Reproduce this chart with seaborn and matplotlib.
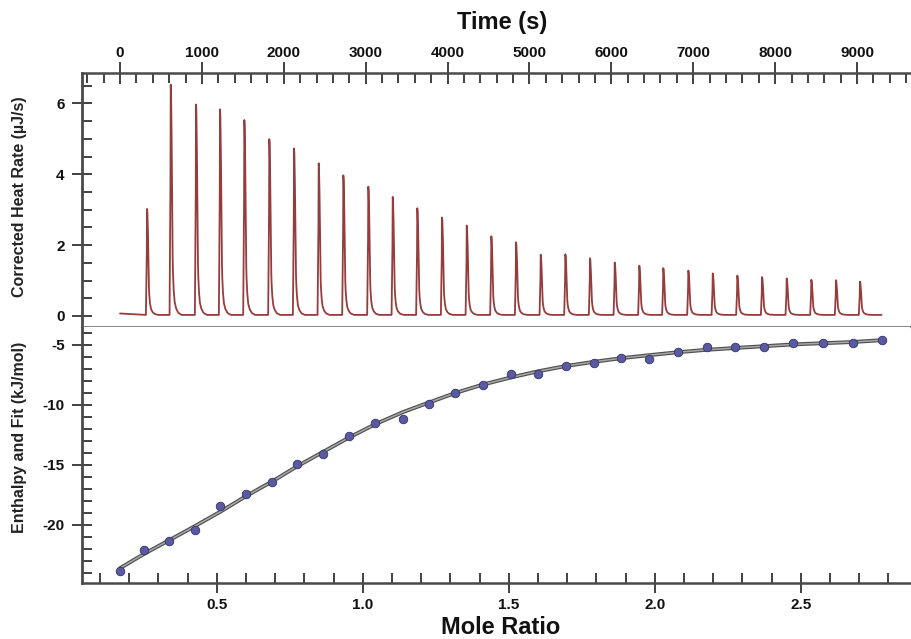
import numpy as np
import pandas as pd
import matplotlib
matplotlib.use("Agg")
import matplotlib.pyplot as plt
import seaborn as sns
from matplotlib.ticker import MultipleLocator, FixedLocator

# ---------------- data ----------------
# Thermogram: injection times (s) and peak heights (uJ/s)
peak_times = [330, 619, 928, 1221, 1518, 1823, 2125, 2426, 2727, 3032,
              3330, 3630, 3932, 4234, 4534, 4836, 5137, 5438, 5739, 6041,
              6341, 6634, 6940, 7238, 7538, 7840, 8141, 8442, 8743, 9036]
peak_heights = [2.99, 6.50, 5.94, 5.80, 5.50, 4.96, 4.70, 4.28, 3.94, 3.62,
                3.33, 3.01, 2.75, 2.52, 2.22, 2.05, 1.70, 1.71, 1.60, 1.48,
                1.39, 1.32, 1.25, 1.17, 1.11, 1.07, 1.03, 0.99, 0.98, 0.94]
# normalised shape of one injection peak (offset in s, fraction of height)
shape_offsets = [-14, -8, -4, 0, 4, 10, 16, 20, 26, 34, 46, 64, 90, 130]
shape_fracs = [0.0, 0.30, 0.45, 1.0, 0.97, 0.82, 0.55, 0.32, 0.20, 0.12,
               0.06, 0.03, 0.01, 0.0]
baseline_times = [0, 150, 300, 9300]
baseline_vals = [0.07, 0.05, 0.03, 0.03]

# Integrated heats
mole_ratio = [0.169, 0.252, 0.335, 0.425, 0.512, 0.600, 0.688, 0.776, 0.865,
              0.954, 1.043, 1.137, 1.226, 1.317, 1.411, 1.508, 1.599, 1.696,
              1.792, 1.885, 1.980, 2.081, 2.178, 2.275, 2.374, 2.475, 2.577,
              2.678, 2.777]
enthalpy = [-23.8, -22.1, -21.3, -20.4, -18.4, -17.4, -16.4, -14.9, -14.1,
            -12.6, -11.5, -11.2, -9.9, -9.0, -8.3, -7.4, -7.45, -6.75,
            -6.5, -6.1, -6.15, -5.6, -5.2, -5.2, -5.2, -4.8, -4.85,
            -4.8, -4.6]
fit_enthalpy = [-23.6, -22.4, -21.3, -20.1, -18.9, -17.6, -16.4, -15.1, -13.9,
                -12.7, -11.6, -10.6, -9.8, -9.0, -8.3, -7.7, -7.2, -6.75,
                -6.4, -6.1, -5.85, -5.6, -5.4, -5.25, -5.1, -4.95, -4.85,
                -4.75, -4.6]

time_ticks = [0, 1000, 2000, 3000, 4000, 5000, 6000, 7000, 8000, 9000]
heat_ticks = [0, 2, 4, 6]
mole_ticks = [0.5, 1.0, 1.5, 2.0, 2.5]
enthalpy_ticks = [-20, -15, -10, -5]

# ---------------- build thermogram trace ----------------
t = np.arange(0, 9301, 1.0)
trace = np.interp(t, baseline_times, baseline_vals)
for pt, ph in zip(peak_times, peak_heights):
    trace = trace + ph * np.interp(t - pt, shape_offsets, shape_fracs, left=0.0, right=0.0)
thermo = pd.DataFrame({"time": t, "heat": trace})
heats = pd.DataFrame({"ratio": mole_ratio, "dh": enthalpy, "fit": fit_enthalpy})

# ---------------- style ----------------
sns.set_theme(style="white")
plt.rcParams["font.family"] = ["Liberation Sans", "DejaVu Sans"]
plt.rcParams["font.weight"] = "bold"
plt.rcParams["axes.labelweight"] = "bold"

fig = plt.figure(figsize=(9.11, 6.39), dpi=100)
L, W = 81.7 / 911, (910 - 81.7) / 911
top_h = (327.3 - 73.3) / 639
bot_h = (583.3 - 327.3) / 639
ax_top = fig.add_axes([L, (639 - 327.3) / 639, W, top_h])
ax_bot = fig.add_axes([L, (639 - 583.3) / 639, W, bot_h])

spine_col = "#4a4a4a"
tick_col = "#333333"
text_col = "#111111"
label_x = (27 - 81.7) / (910 - 81.7)

# ---------- top: raw thermogram ----------
sns.lineplot(data=thermo, x="time", y="heat", ax=ax_top, color="#963c3c",
             linewidth=1.3, estimator=None, sort=False)
ax_top.set_xlim(-468, 9647)
ax_top.set_ylim(-0.32, 6.85)
ax_top.xaxis.set_ticks_position("top")
ax_top.xaxis.set_label_position("top")
ax_top.xaxis.set_major_locator(FixedLocator(time_ticks))
ax_top.xaxis.set_minor_locator(MultipleLocator(200))
ax_top.yaxis.set_major_locator(FixedLocator(heat_ticks))
ax_top.yaxis.set_minor_locator(MultipleLocator(0.5))
ax_top.set_xlabel("")
ax_top.set_ylabel("Corrected Heat Rate (\u00b5J/s)", fontsize=11.5, color="#222222")
ax_top.yaxis.set_label_coords(label_x, (327.3 - 197) / (327.3 - 73.3))

# ---------- bottom: integrated heats ----------
sns.lineplot(data=heats, x="ratio", y="fit", ax=ax_bot, color="#505050",
             linewidth=2.8, estimator=None, sort=False)
sns.lineplot(data=heats, x="ratio", y="fit", ax=ax_bot, color="#a8a8a8",
             linewidth=1.1, estimator=None, sort=False)
sns.scatterplot(data=heats, x="ratio", y="dh", ax=ax_bot, color="#5a5aa0",
                edgecolor="#33336a", linewidth=0.6, s=38, zorder=5)
ax_bot.set_xlim(0.0377, 2.874)
ax_bot.set_ylim(-24.86, -3.525)
ax_bot.xaxis.set_major_locator(FixedLocator(mole_ticks))
ax_bot.xaxis.set_minor_locator(MultipleLocator(0.1))
ax_bot.yaxis.set_major_locator(FixedLocator(enthalpy_ticks))
ax_bot.yaxis.set_minor_locator(MultipleLocator(1))
ax_bot.set_xlabel("")
ax_bot.set_ylabel("Enthalpy and Fit (kJ/mol)", fontsize=11.5, color="#222222")
ax_bot.yaxis.set_label_coords(label_x, (583.3 - 437) / (583.3 - 327.3))

for ax in (ax_top, ax_bot):
    for s in ax.spines.values():
        s.set_visible(False)
    ax.spines["left"].set_visible(True)
    ax.spines["left"].set_color(spine_col)
    ax.spines["left"].set_linewidth(2.0)
    ax.grid(False)
    ax.tick_params(which="major", direction="inout", length=14.5, width=1.3,
                   colors=tick_col, labelcolor=text_col, labelsize=11)
    ax.tick_params(which="minor", direction="in", length=7, width=1.3,
                   colors=tick_col)
    ax.tick_params(axis="y", which="both", left=True, right=False, pad=5)

ax_top.spines["top"].set_visible(True)
ax_top.spines["top"].set_color(spine_col)
ax_top.spines["top"].set_linewidth(1.8)
ax_top.spines["bottom"].set_visible(True)
ax_top.spines["bottom"].set_color("#8a8a8a")
ax_top.spines["bottom"].set_linewidth(1.5)
ax_top.tick_params(axis="x", which="both", top=True, bottom=False,
                   labeltop=True, labelbottom=False, pad=1)
ax_top.tick_params(axis="x", which="major", length=16.5)

ax_bot.spines["bottom"].set_visible(True)
ax_bot.spines["bottom"].set_color(spine_col)
ax_bot.spines["bottom"].set_linewidth(1.8)
ax_bot.tick_params(axis="x", which="both", bottom=True, top=False, pad=3)

for lab in ax_top.get_xticklabels() + ax_top.get_yticklabels() + \
        ax_bot.get_xticklabels() + ax_bot.get_yticklabels():
    lab.set_fontweight("bold")

ax_bot.set_yticklabels([str(v) for v in enthalpy_ticks])

fig.text(502 / 911, 1 - 22 / 639, "Time (s)", ha="center", va="center",
         fontsize=17, fontweight="bold", color=text_col)
fig.text(501 / 911, 1 - 627 / 639, "Mole Ratio", ha="center", va="center",
         fontsize=17, fontweight="bold", color=text_col)

fig.savefig("out.png", dpi=100)
